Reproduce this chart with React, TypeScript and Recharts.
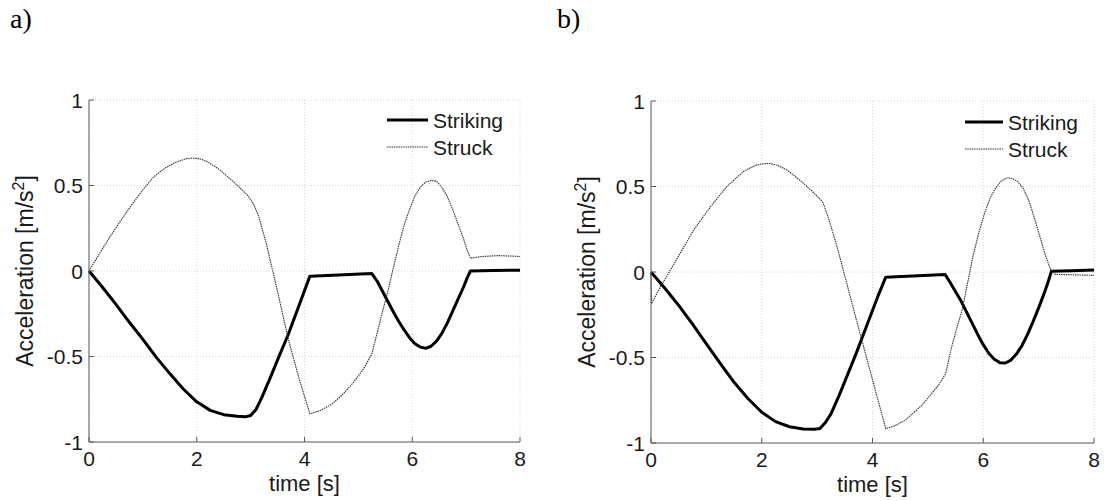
import React from 'react';
import { CartesianGrid, Line, LineChart, XAxis, YAxis } from 'recharts';

const FONT = '"Liberation Sans", Arial, Helvetica, sans-serif';
const SERIF = '"Liberation Serif", "Times New Roman", serif';
const TEXT = '#1a1a1a';
const AXIS = '#5a5a5a';
const GRID = '#d4d4d4';

const timeTicks = [0, 2, 4, 6, 8];
const accelTicks = [-1, -0.5, 0, 0.5, 1];
const seriesNames = ['Striking', 'Struck'];

// case a) : [time s, acceleration m/s^2]
const strikingA: [number, number][] = [
  [0, 0], [0.25, -0.095], [0.5, -0.195], [0.75, -0.3], [1.0, -0.4], [1.25, -0.505],
  [1.5, -0.6], [1.75, -0.69], [2.0, -0.765], [2.25, -0.815], [2.5, -0.84], [2.75, -0.85],
  [2.9, -0.853], [3.0, -0.845], [3.1, -0.81], [3.2, -0.745], [3.35, -0.635], [3.5, -0.52],
  [3.7, -0.37], [3.9, -0.2], [4.1, -0.03], [5.25, -0.015], [5.35, -0.06], [5.45, -0.12],
  [5.55, -0.18], [5.65, -0.24], [5.75, -0.295], [5.85, -0.345], [5.95, -0.39], [6.05, -0.425],
  [6.15, -0.445], [6.25, -0.452], [6.35, -0.44], [6.45, -0.41], [6.55, -0.365], [6.65, -0.305],
  [6.75, -0.235], [6.85, -0.165], [6.95, -0.095], [7.02, -0.04], [7.08, 0], [7.5, 0.003], [8.0, 0.005],
];

const struckA: [number, number][] = [
  [0, 0], [0.2, 0.105], [0.4, 0.205], [0.6, 0.3], [0.8, 0.39], [1.0, 0.475], [1.2, 0.55],
  [1.4, 0.6], [1.6, 0.635], [1.8, 0.657], [1.9, 0.66], [2.0, 0.658], [2.1, 0.652], [2.2, 0.638],
  [2.4, 0.598], [2.6, 0.545], [2.8, 0.487], [2.95, 0.44], [3.05, 0.395], [3.15, 0.32], [3.3, 0.15],
  [3.5, -0.12], [3.7, -0.4], [3.9, -0.63], [4.1, -0.835], [4.3, -0.815], [4.5, -0.78],
  [4.7, -0.725], [4.9, -0.655], [5.1, -0.57], [5.25, -0.485], [5.35, -0.36], [5.45, -0.235],
  [5.55, -0.115], [5.65, 0.02], [5.75, 0.15], [5.85, 0.27], [5.95, 0.36], [6.05, 0.44],
  [6.15, 0.49], [6.25, 0.52], [6.35, 0.53], [6.45, 0.525], [6.55, 0.49], [6.65, 0.435],
  [6.75, 0.36], [6.85, 0.275], [6.95, 0.19], [7.02, 0.12], [7.08, 0.075], [7.3, 0.085],
  [7.6, 0.09], [8.0, 0.085],
];

// case b)
const strikingB: [number, number][] = [
  [0, 0], [0.25, -0.095], [0.5, -0.195], [0.75, -0.305], [1.0, -0.42], [1.25, -0.535],
  [1.5, -0.645], [1.75, -0.74], [2.0, -0.82], [2.25, -0.875], [2.5, -0.905], [2.75, -0.918],
  [2.95, -0.92], [3.05, -0.915], [3.15, -0.88], [3.25, -0.83], [3.4, -0.72], [3.55, -0.6],
  [3.7, -0.48], [3.9, -0.31], [4.1, -0.14], [4.24, -0.03], [5.31, -0.014], [5.4, -0.06],
  [5.5, -0.115], [5.6, -0.17], [5.7, -0.235], [5.8, -0.3], [5.9, -0.365], [6.0, -0.425],
  [6.1, -0.475], [6.2, -0.51], [6.3, -0.53], [6.4, -0.532], [6.5, -0.515], [6.6, -0.48],
  [6.7, -0.43], [6.8, -0.365], [6.9, -0.29], [7.0, -0.21], [7.1, -0.125], [7.17, -0.06],
  [7.23, 0.004], [7.6, 0.008], [8.0, 0.012],
];

const struckB: [number, number][] = [
  [0, 0], [0.01, -0.185], [0.17, -0.088], [0.47, 0.078], [0.77, 0.245], [1.07, 0.38],
  [1.37, 0.5], [1.67, 0.588], [1.8, 0.61], [1.9, 0.625], [2.0, 0.632], [2.1, 0.635],
  [2.2, 0.631], [2.3, 0.622], [2.45, 0.598], [2.6, 0.56], [2.75, 0.52], [2.95, 0.46],
  [3.1, 0.41], [3.2, 0.32], [3.35, 0.16], [3.53, -0.06], [3.75, -0.33], [4.0, -0.63],
  [4.24, -0.916], [4.4, -0.9], [4.59, -0.867], [4.89, -0.78], [5.19, -0.663], [5.32, -0.595],
  [5.42, -0.45], [5.52, -0.33], [5.62, -0.22], [5.72, -0.06], [5.82, 0.1], [5.92, 0.23],
  [6.02, 0.34], [6.12, 0.43], [6.22, 0.49], [6.32, 0.53], [6.42, 0.55], [6.52, 0.548],
  [6.62, 0.53], [6.72, 0.49], [6.82, 0.42], [6.92, 0.32], [7.02, 0.21], [7.12, 0.1],
  [7.21, 0.02], [7.3, -0.014], [7.6, -0.016], [8.0, -0.02],
];

const toPoints = (pairs: [number, number][]) => pairs.map(([t, v]) => ({ t, v }));

const XTick = (props: any) => {
  const { x, y, payload } = props;
  return (
    <g>
      <line x1={x} x2={x} y1={y} y2={y - 5} stroke={AXIS} strokeWidth={1} />
      <text x={x} y={y + 24} textAnchor="middle" fontSize={21} fontFamily={FONT} fill={TEXT}>
        {String(payload.value)}
      </text>
    </g>
  );
};

const YTick = (props: any) => {
  const { x, y, payload } = props;
  return (
    <g>
      <line x1={x} x2={x + 5} y1={y} y2={y} stroke={AXIS} strokeWidth={1} />
      <text x={x - 6} y={y} dy="0.36em" textAnchor="end" fontSize={21} fontFamily={FONT} fill={TEXT}>
        {String(payload.value)}
      </text>
    </g>
  );
};

const YTitle = (props: any) => {
  const vb = props.viewBox ?? { x: 0, y: 100, width: 89, height: 342 };
  const cx = vb.x + vb.width - 56;
  const cy = vb.y + vb.height / 2;
  return (
    <text
      x={cx}
      y={cy}
      transform={`rotate(-90 ${cx} ${cy})`}
      textAnchor="middle"
      fontSize={23}
      fontFamily={FONT}
      fill={TEXT}
    >
      Acceleration [m/s
      <tspan dy={-9} fontSize={16}>2</tspan>
      <tspan dy={9}>]</tspan>
    </text>
  );
};

const XTitle = (props: any) => {
  const vb = props.viewBox ?? { x: 89, y: 442, width: 430, height: 59 };
  return (
    <text x={vb.x + vb.width / 2} y={vb.y + 49} textAnchor="middle" fontSize={22} fontFamily={FONT} fill={TEXT}>
      time [s]
    </text>
  );
};

interface PanelProps {
  letter: string;
  letterX: number;
  left: number;
  width: number;
  top: number;
  yAxisWidth: number;
  marginRight: number;
  xAxisHeight: number;
  legendX: number;
  legendY: number;
  legendLen: number;
  striking: [number, number][];
  struck: [number, number][];
}

const Panel: React.FC<PanelProps> = (p) => {
  const lineEnd = p.legendX + p.legendLen;
  return (
    <div style={{ position: 'absolute', left: p.left, top: 0, width: p.width, height: 501 }}>
      <LineChart
        width={p.width}
        height={501}
        margin={{ top: p.top, right: p.marginRight, bottom: 0, left: 0 }}
      >
        <CartesianGrid stroke={GRID} strokeDasharray="1 2" />
        <XAxis
          dataKey="t"
          type="number"
          domain={[0, 8]}
          ticks={timeTicks}
          interval={0}
          height={p.xAxisHeight}
          stroke={AXIS}
          tickLine={false}
          tickSize={0}
          tickMargin={0}
          tick={<XTick />}
          label={<XTitle />}
        />
        <YAxis
          type="number"
          domain={[-1, 1]}
          ticks={accelTicks}
          interval={0}
          width={p.yAxisWidth}
          stroke={AXIS}
          tickLine={false}
          tickSize={0}
          tickMargin={0}
          tick={<YTick />}
          label={<YTitle />}
        />
        <Line
          data={toPoints(p.striking)}
          dataKey="v"
          name={seriesNames[0]}
          type="linear"
          stroke="#000000"
          strokeWidth={3}
          strokeLinejoin="round"
          dot={false}
          activeDot={false}
          isAnimationActive={false}
        />
        <Line
          data={toPoints(p.struck)}
          dataKey="v"
          name={seriesNames[1]}
          type="linear"
          stroke="#333333"
          strokeWidth={1.1}
          strokeDasharray="1.5 0.8"
          dot={false}
          activeDot={false}
          isAnimationActive={false}
        />
      </LineChart>
      <svg
        width={p.width}
        height={501}
        style={{ position: 'absolute', left: 0, top: 0, pointerEvents: 'none' }}
      >
        <text x={p.letterX} y={28} fontSize={28} fontFamily={SERIF} fill="#000">
          {p.letter}
        </text>
        <line x1={p.legendX} x2={lineEnd} y1={p.legendY} y2={p.legendY} stroke="#000" strokeWidth={3} />
        <text x={lineEnd + 5} y={p.legendY} dy="0.36em" fontSize={21} fontFamily={FONT} fill={TEXT}>
          {seriesNames[0]}
        </text>
        <line
          x1={p.legendX}
          x2={lineEnd}
          y1={p.legendY + 27}
          y2={p.legendY + 27}
          stroke="#333333"
          strokeWidth={1.1}
          strokeDasharray="1.5 0.8"
        />
        <text x={lineEnd + 5} y={p.legendY + 27} dy="0.36em" fontSize={21} fontFamily={FONT} fill={TEXT}>
          {seriesNames[1]}
        </text>
      </svg>
    </div>
  );
};

export default function App() {
  return (
    <div style={{ position: 'absolute', left: 0, top: 0, width: 1104, height: 501, background: '#fff' }}>
      <Panel
        letter="a)"
        letterX={10}
        left={0}
        width={560}
        top={100}
        yAxisWidth={89}
        marginRight={40}
        xAxisHeight={59}
        legendX={387}
        legendY={120}
        legendLen={41}
        striking={strikingA}
        struck={struckA}
      />
      <Panel
        letter="b)"
        letterX={0}
        left={557}
        width={547}
        top={101}
        yAxisWidth={94}
        marginRight={10}
        xAxisHeight={58}
        legendX={408}
        legendY={122}
        legendLen={38}
        striking={strikingB}
        struck={struckB}
      />
    </div>
  );
}
